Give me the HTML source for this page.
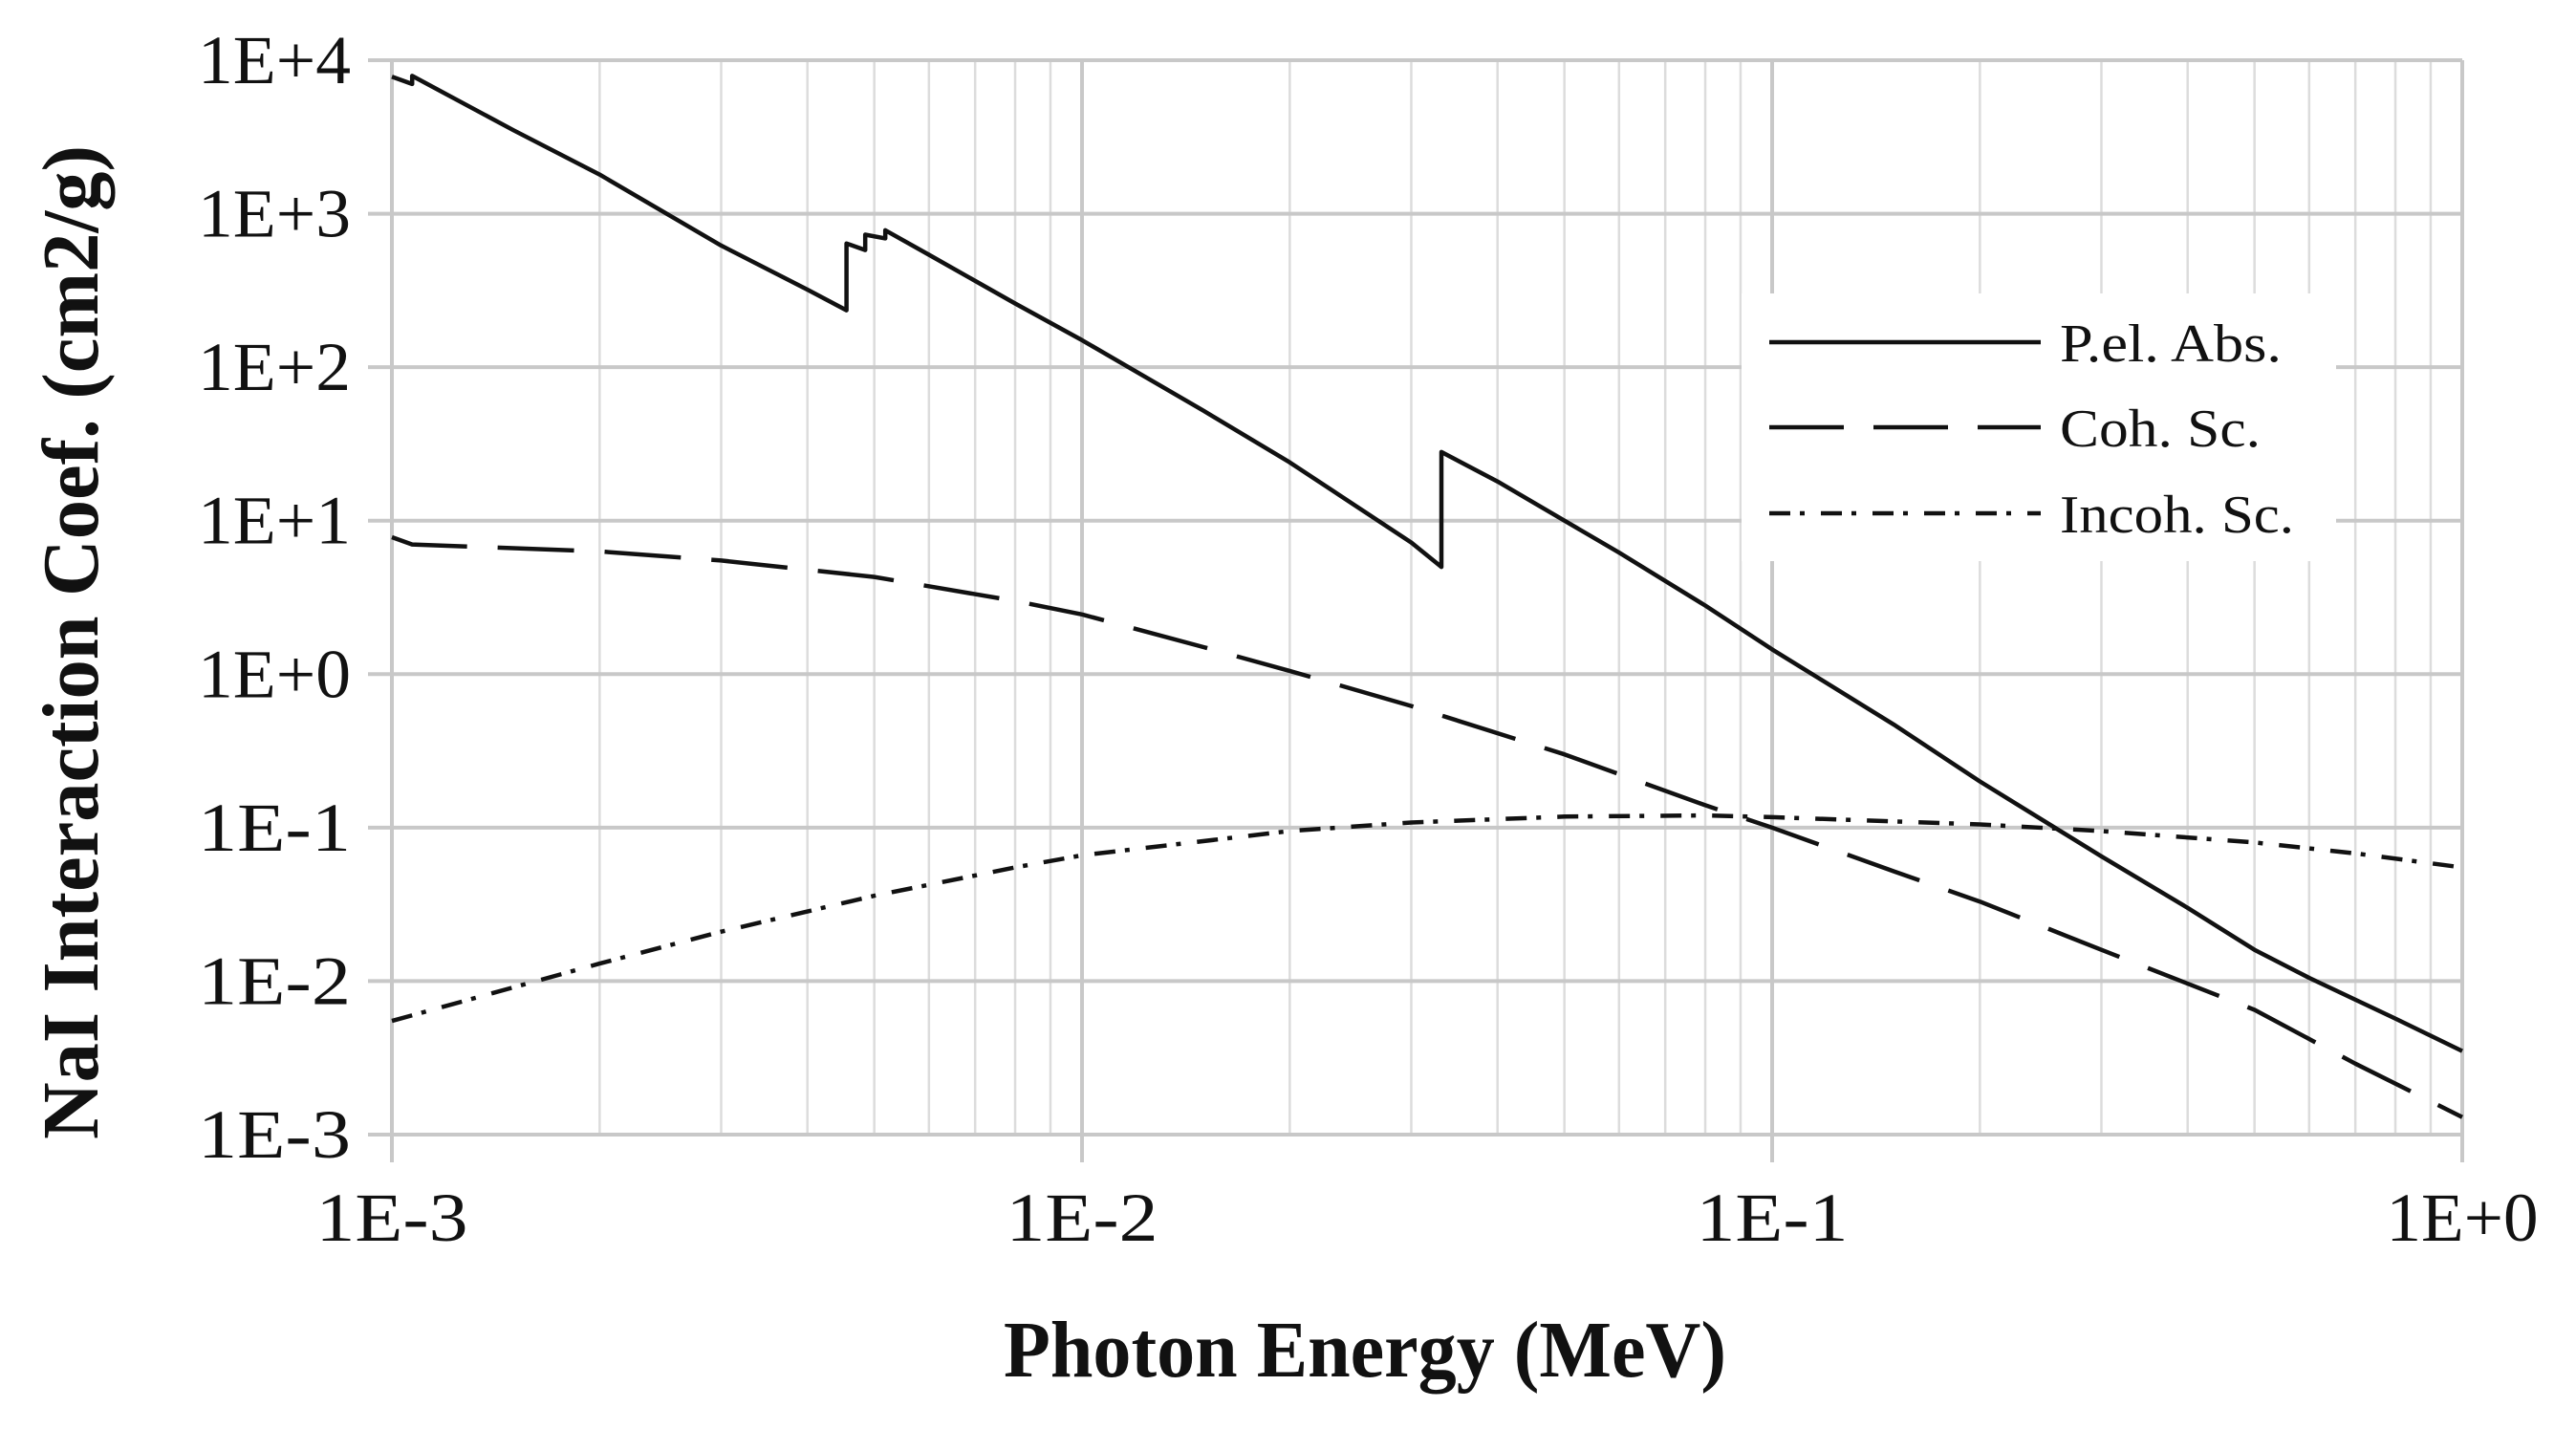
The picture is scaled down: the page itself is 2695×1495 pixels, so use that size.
<!DOCTYPE html>
<html>
<head>
<meta charset="utf-8">
<style>
html,body{margin:0;padding:0;background:#fff;}
svg{display:block;}
text{font-family:"Liberation Serif",serif;fill:#111;}
</style>
</head>
<body>
<svg id="chart" width="2695" height="1495" viewBox="0 0 2695 1495" xmlns="http://www.w3.org/2000/svg">
  <rect x="0" y="0" width="2695" height="1495" fill="#fff"/>
  <g id="grid"></g>
  <g id="ticks"></g>
  <g id="series"></g>
  <g id="legend">
    <rect x="1822" y="307" width="622" height="280" fill="#fff"/>
    <line x1="1851" y1="358" x2="2135" y2="358" stroke="#111" stroke-width="4.5"/>
    <text x="2155" y="378" font-size="56" textLength="232" lengthAdjust="spacingAndGlyphs">P.el. Abs.</text>
    <line x1="1851" y1="447" x2="2135" y2="447" stroke="#111" stroke-width="4.5" stroke-dasharray="78,31"/>
    <text x="2155" y="467" font-size="56" textLength="210" lengthAdjust="spacingAndGlyphs">Coh. Sc.</text>
    <line x1="1851" y1="537" x2="2135" y2="537" stroke="#111" stroke-width="4.5" stroke-dasharray="22,10,5,17"/>
    <text x="2155" y="557" font-size="56" textLength="245" lengthAdjust="spacingAndGlyphs">Incoh. Sc.</text>
  </g>
  <text x="1428" y="1440" font-size="84" font-weight="bold" text-anchor="middle" textLength="756" lengthAdjust="spacingAndGlyphs">Photon Energy (MeV)</text>
  <text x="0" y="0" font-size="84" font-weight="bold" text-anchor="middle" textLength="1040" lengthAdjust="spacingAndGlyphs" transform="translate(102,672) rotate(-90)">NaI Interaction Coef. (cm2/g)</text>
</svg>
<script>
const xTickValues = [0.001, 0.01, 0.1, 1];
const xTickLabels = ["1E-3", "1E-2", "1E-1", "1E+0"];
const yTickValues = [1e4, 1e3, 1e2, 1e1, 1, 0.1, 0.01, 0.001];
const yTickLabels = ["1E+4", "1E+3", "1E+2", "1E+1", "1E+0", "1E-1", "1E-2", "1E-3"];

const pelEnergy = [0.001, 0.00107, 0.00107, 0.0015, 0.002, 0.003, 0.004, 0.004557, 0.004557, 0.004852, 0.004852, 0.005188, 0.005188, 0.006, 0.008, 0.01, 0.015, 0.02, 0.03, 0.03317, 0.03317, 0.04, 0.05, 0.06, 0.08, 0.1, 0.15, 0.2, 0.3, 0.4, 0.5, 0.6, 0.8, 1.0];
const pelValue = [7800, 7000, 7900, 3500, 1800, 620, 320, 235, 640, 580, 730, 690, 780, 540, 260, 150, 52, 24, 7.2, 5.0, 28, 18, 10, 6.2, 2.8, 1.45, 0.47, 0.2, 0.065, 0.03, 0.016, 0.0105, 0.0057, 0.0035];

const cohEnergy = [0.001, 0.00107, 0.002, 0.003, 0.005, 0.008, 0.01, 0.015, 0.02, 0.03, 0.05, 0.08, 0.1, 0.15, 0.2, 0.3, 0.5, 0.7, 1.0];
const cohValue = [7.8, 7.0, 6.3, 5.5, 4.3, 3.0, 2.45, 1.5, 1.05, 0.62, 0.3, 0.14, 0.1, 0.052, 0.033, 0.016, 0.0065, 0.0029, 0.0013];

const incEnergy = [0.001, 0.002, 0.003, 0.005, 0.008, 0.01, 0.02, 0.03, 0.05, 0.08, 0.1, 0.2, 0.3, 0.5, 0.7, 1.0];
const incValue = [0.0055, 0.013, 0.021, 0.036, 0.055, 0.066, 0.095, 0.108, 0.118, 0.12, 0.117, 0.105, 0.095, 0.08, 0.068, 0.055];

const NS = "http://www.w3.org/2000/svg";
const X0 = 410, X1 = 2576, Y0 = 1187, Y1 = 63;
function xs(v){ return X0 + (Math.log10(v) + 3) / 3 * (X1 - X0); }
function ys(v){ return Y0 - (Math.log10(v) + 3) / 7 * (Y0 - Y1); }
function mk(tag, attrs, parent){
  const el = document.createElementNS(NS, tag);
  for (const k in attrs) el.setAttribute(k, attrs[k]);
  parent.appendChild(el);
  return el;
}
const grid = document.getElementById('grid');
const ticks = document.getElementById('ticks');
const series = document.getElementById('series');

for (let d = -3; d < 0; d++) {
  for (let m = 2; m <= 9; m++) {
    const x = xs(m * Math.pow(10, d));
    const l = mk('line', {x1:x, x2:x, y1:Y1, y2:Y0, stroke:'#dcdcdc', 'stroke-width':2.5}, grid);
    
    
  }
}
yTickValues.forEach((v, i) => {
  const y = ys(v);
  const l = mk('line', {x1:X0 - 25, x2:X1, y1:y, y2:y, stroke:'#c8c8c8', 'stroke-width':4}, grid);
  
  
  const t = mk('text', {x:367, y:y + 24, 'font-size':72, 'text-anchor':'end', textLength:160, lengthAdjust:'spacingAndGlyphs'}, ticks);
  t.textContent = yTickLabels[i];
  
  
});
xTickValues.forEach((v, i) => {
  const x = xs(v);
  const l = mk('line', {x1:x, x2:x, y1:Y1, y2:Y0 + 29, stroke:'#c8c8c8', 'stroke-width':4}, grid);
  
  
  const t = mk('text', {x:x, y:1298, 'font-size':72, 'text-anchor':'middle', textLength:159, lengthAdjust:'spacingAndGlyphs'}, ticks);
  t.textContent = xTickLabels[i];
  
  
});

function drawSeries(es, vs, dash, name){
  const d = es.map((e, i) => (i ? 'L' : 'M') + xs(e).toFixed(1) + ',' + ys(vs[i]).toFixed(1)).join(' ');
  const p = mk('path', {d:d, fill:'none', stroke:'#111', 'stroke-width':4.5, 'stroke-linejoin':'round'}, series);
  if (dash) p.setAttribute('stroke-dasharray', dash);
  
  
}
drawSeries(incEnergy, incValue, '22,10,5,17', 'incoherent-scatter-line');
drawSeries(cohEnergy, cohValue, '80,32', 'coherent-scatter-line');
drawSeries(pelEnergy, pelValue, null, 'photoelectric-absorption-line');

document.getElementById('chart').appendChild(document.getElementById('legend'));
</script>
</body>
</html>
